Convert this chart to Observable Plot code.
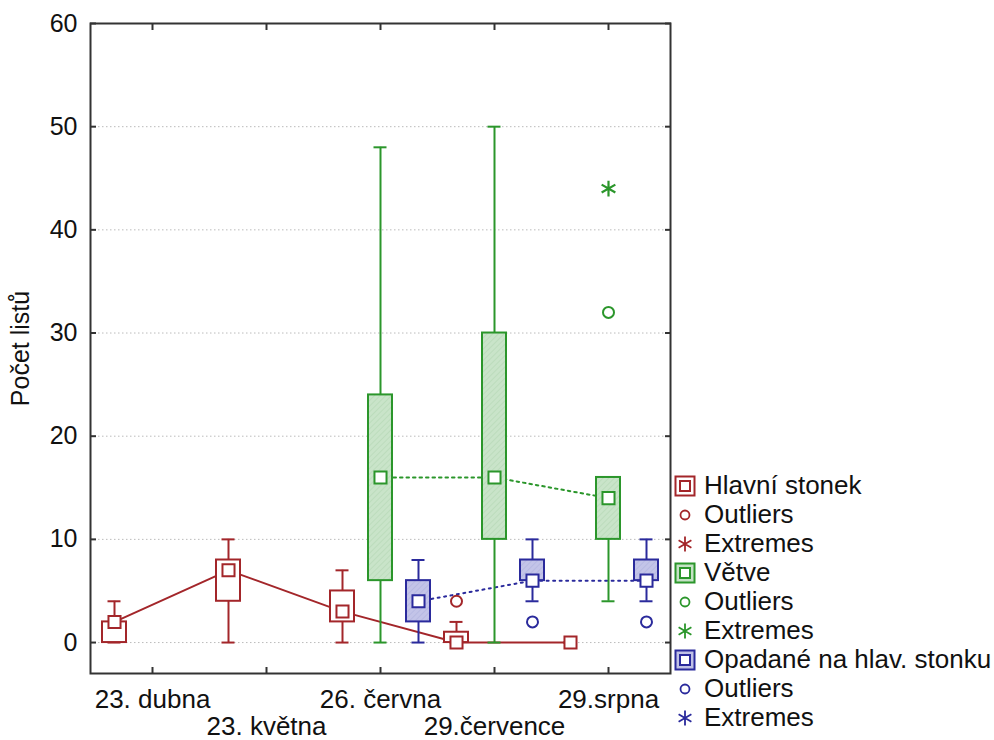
<!DOCTYPE html>
<html><head><meta charset="utf-8">
<script src="https://cdn.jsdelivr.net/npm/d3@7"></script>
<script src="https://cdn.jsdelivr.net/npm/@observablehq/plot@0.6"></script>
<style>
body{margin:0;background:#fff;font-family:"Liberation Sans",Arial,sans-serif;}
#wrap{position:relative;width:994px;height:740px;}
#legend{position:absolute;left:674px;top:471px;font-size:26px;line-height:29px;color:#111;}
.item{display:flex;align-items:center;height:29px;white-space:nowrap}
.item svg{width:22px;height:22px;margin-right:8px;flex:none}
</style></head><body><div id="wrap"></div>
<script>
// categories
const dates = ["23. dubna", "23. května", "26. června", "29.července", "29.srpna"];
const seriesNames = ["Hlavní stonek", "Větve", "Opadané na hlav. stonku"];
const yTicks = [0, 10, 20, 30, 40, 50, 60];

// Hlavní stonek
const hlavniMin    = [0, 0, 0, 0, 0];
const hlavniQ1     = [0, 4, 2, 0, 0];
const hlavniMedian = [2, 7, 3, 0, 0];
const hlavniQ3     = [2, 8, 5, 1, 0];
const hlavniMax    = [4, 10, 7, 2, 0];
const hlavniOutliers = [[], [], [], [4], []];
const hlavniExtremes = [[], [], [], [], []];

// Větve
const vetveMin    = [null, null, 0, 0, 4];
const vetveQ1     = [null, null, 6, 10, 10];
const vetveMedian = [null, null, 16, 16, 14];
const vetveQ3     = [null, null, 24, 30, 16];
const vetveMax    = [null, null, 48, 50, 16];
const vetveOutliers = [[], [], [], [], [32]];
const vetveExtremes = [[], [], [], [], [44]];

// Opadané na hlav. stonku
const opadaneMin    = [null, null, 0, 4, 4];
const opadaneQ1     = [null, null, 2, 6, 6];
const opadaneMedian = [null, null, 4, 6, 6];
const opadaneQ3     = [null, null, 6, 8, 8];
const opadaneMax    = [null, null, 8, 10, 10];
const opadaneOutliers = [[], [], [], [2], [2]];
const opadaneExtremes = [[], [], [], [], []];

const strokeColors = ["#a3262a", "#2b962b", "#2a2a9c"];
const boxFills = ["#ffffff", "url(#hatchG)", "url(#hatchB)"];
const dashes = [null, "2.5,4", "2,4.5"];

const stats = [
  {min: hlavniMin, q1: hlavniQ1, med: hlavniMedian, q3: hlavniQ3, max: hlavniMax, out: hlavniOutliers, ext: hlavniExtremes},
  {min: vetveMin, q1: vetveQ1, med: vetveMedian, q3: vetveQ3, max: vetveMax, out: vetveOutliers, ext: vetveExtremes},
  {min: opadaneMin, q1: opadaneQ1, med: opadaneMedian, q3: opadaneQ3, max: opadaneMax, out: opadaneOutliers, ext: opadaneExtremes}
];

const keys = dates.flatMap(d => [0, 1, 2].map(si => d + "|" + si));
const rows = [], outliers = [], extremes = [];
stats.forEach((s, si) => dates.forEach((d, di) => {
  if (s.med[di] == null) return;
  const key = d + "|" + si;
  rows.push({key, si, min: s.min[di], q1: s.q1[di], med: s.med[di], q3: s.q3[di], max: s.max[di],
    stroke: strokeColors[si], fill: boxFills[si]});
  s.out[di].forEach(v => outliers.push({key, si, v, stroke: strokeColors[si]}));
  s.ext[di].forEach(v => extremes.push({key, si, v, stroke: strokeColors[si]}));
}));
const midKeys = dates.map(d => d + "|1");
const row1Keys = midKeys.filter((k, i) => i % 2 === 0);
const row2Keys = midKeys.filter((k, i) => i % 2 === 1);
const fmt = k => k.split("|")[0];

const plot = Plot.plot({
  width: 994, height: 740,
  marginLeft: 90, marginRight: 324, marginTop: 23, marginBottom: 67,
  style: {fontFamily: "'Liberation Sans', Arial, sans-serif", fontSize: "26px", color: "#111", background: "#fff"},
  x: {type: "band", domain: keys, paddingInner: 0.38, paddingOuter: 0.19},
  y: {domain: [-3, 60]},
  color: {type: "identity"},
  marks: [
    Plot.gridY(yTicks, {stroke: "#bbb", strokeOpacity: 1, strokeDasharray: "1.5,2.5"}),
    ...[0, 1, 2].map(si => Plot.line(rows.filter(r => r.si === si), {x: "key", y: "med", stroke: "stroke", strokeWidth: 2, strokeDasharray: dashes[si] ?? undefined})),
    Plot.ruleX(rows, {x: "key", y1: "min", y2: "q1", stroke: "stroke", strokeWidth: 2}),
    Plot.ruleX(rows, {x: "key", y1: "q3", y2: "max", stroke: "stroke", strokeWidth: 2}),
    Plot.tickY(rows, {x: "key", y: "min", stroke: "stroke", strokeWidth: 2, insetLeft: 5.5, insetRight: 5.5}),
    Plot.tickY(rows, {x: "key", y: "max", stroke: "stroke", strokeWidth: 2, insetLeft: 5.5, insetRight: 5.5}),
    Plot.barY(rows, {x: "key", y1: "q1", y2: "q3", fill: "fill", stroke: "stroke", strokeWidth: 2}),
    Plot.dot(rows, {x: "key", y: "med", symbol: "square", r: 6.8, fill: "#fff", stroke: "stroke", strokeWidth: 2}),
    Plot.dot(outliers, {x: "key", y: "v", symbol: "circle", r: 5.5, fill: "none", stroke: "stroke", strokeWidth: 2}),
    Plot.dot(extremes, {x: "key", y: "v", symbol: "asterisk", r: 7.5, stroke: "stroke", strokeWidth: 2.2}),
    Plot.axisY(yTicks, {anchor: "left", tickSize: 0, tickPadding: 13, fontSize: 25, label: "Počet listů", labelAnchor: "center", labelArrow: "none", labelOffset: 79}),
    Plot.axisY(yTicks, {anchor: "left", tickSize: -6, fill: "none", label: null, stroke: "#333", strokeWidth: 2}),
    Plot.axisY(yTicks, {anchor: "right", tickSize: -6, fill: "none", label: null, stroke: "#333", strokeWidth: 2}),
    Plot.axisX(row1Keys, {anchor: "bottom", tickSize: 0, tickPadding: 16, tickFormat: fmt, label: null}),
    Plot.axisX(row2Keys, {anchor: "bottom", tickSize: 0, tickPadding: 43, tickFormat: fmt, label: null}),
    Plot.axisX(midKeys, {anchor: "bottom", tickSize: -6, fill: "none", label: null, stroke: "#333", strokeWidth: 2}),
    Plot.axisX(midKeys, {anchor: "top", tickSize: -6, fill: "none", label: null, stroke: "#333", strokeWidth: 2}),
    Plot.frame({stroke: "#333", strokeWidth: 2})
  ]
});

// hatched fill patterns
const defs = d3.select(plot).insert("defs", ":first-child");
function pattern(id, base, line) {
  const p = defs.append("pattern").attr("id", id).attr("patternUnits", "userSpaceOnUse")
    .attr("width", 4).attr("height", 4).attr("patternTransform", "rotate(45)");
  p.append("rect").attr("width", 4).attr("height", 4).attr("fill", base);
  p.append("line").attr("x1", 0).attr("y1", 0).attr("x2", 0).attr("y2", 4).attr("stroke", line).attr("stroke-width", 1.2);
}
pattern("hatchG", "#c9e4c9", "#b4d8b4");
pattern("hatchB", "#c3c4e8", "#b0b2de");

const wrap = document.getElementById("wrap");
wrap.appendChild(plot);

// legend
const legendItems = [];
seriesNames.forEach((name, si) => {
  legendItems.push({label: name, kind: "box", si});
  legendItems.push({label: "Outliers", kind: "circle", si});
  legendItems.push({label: "Extremes", kind: "star", si});
});
const solidFills = ["#ffffff", "#c5e2c5", "#c0c1e6"];
const legend = d3.select(wrap).append("div").attr("id", "legend");
legendItems.forEach(it => {
  const row = legend.append("div").attr("class", "item");
  const s = row.append("svg").attr("viewBox", "-11 -11 22 22");
  const c = strokeColors[it.si];
  if (it.kind === "box") {
    s.append("rect").attr("x", -9.5).attr("y", -9.5).attr("width", 19).attr("height", 19)
      .attr("fill", solidFills[it.si]).attr("stroke", c).attr("stroke-width", 2);
    s.append("rect").attr("x", -5).attr("y", -5).attr("width", 10).attr("height", 10)
      .attr("fill", "#fff").attr("stroke", c).attr("stroke-width", 2);
  } else if (it.kind === "circle") {
    s.append("circle").attr("r", 4.5).attr("fill", "none").attr("stroke", c).attr("stroke-width", 1.8);
  } else {
    s.append("path").attr("d", d3.symbol(d3.symbolAsterisk, Math.PI * 49)()).attr("fill", "none")
      .attr("stroke", c).attr("stroke-width", 1.8);
  }
  row.append("span").text(it.label);
});
</script></body></html>
